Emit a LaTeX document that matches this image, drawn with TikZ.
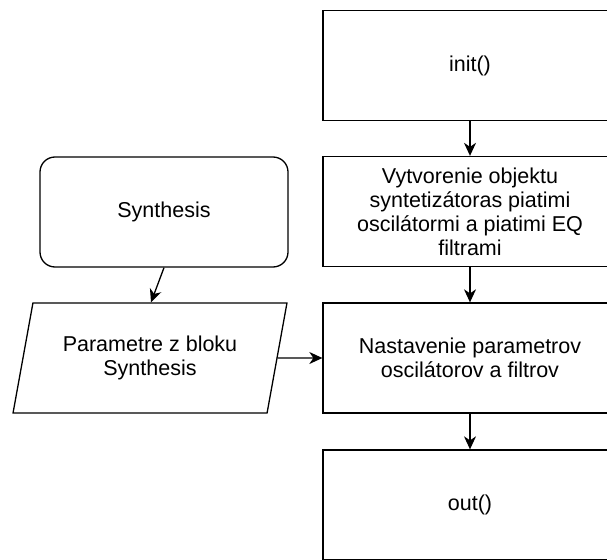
\documentclass[tikz,border=0pt]{standalone}
\usepackage{fontspec}
\setmainfont{Liberation Sans}
\usetikzlibrary{arrows.meta,shapes.geometric}

\tikzset{
  box/.style={draw, line width=1.3pt, minimum width=294pt, minimum height=110pt,
    align=center, inner sep=0pt,
    font=\fontsize{21.5pt}{24pt}\selectfont},
  roundbox/.style={box, rounded corners=15pt, minimum width=248pt},
  iobox/.style={draw, line width=1.3pt, trapezium, trapezium left angle=71.4,
    trapezium right angle=108.6, trapezium stretches=true,
    minimum width=274pt, minimum height=110pt, align=center, inner sep=0pt,
    font=\fontsize{21.5pt}{24pt}\selectfont},
  arr/.style={line width=1.3pt, -{Stealth[length=13pt,width=12pt,inset=4pt]}}
}

\begin{document}
\begin{tikzpicture}[x=1pt, y=-1pt]
  \useasboundingbox (0,0) rectangle (607,559);
  \clip (0,0) rectangle (607,559);

  % main sequence
  \node[box] (init)   at (470,65.5) {init()};
  \node[box] (create) at (470,211.5) {Vytvorenie objektu\\syntetizátoras piatimi\\oscilátormi a piatimi EQ\\filtrami};
  \node[box] (setup)  at (470,358) {Nastavenie parametrov\\oscilátorov a filtrov};
  \node[box] (out)    at (470,505) {out()};

  % input side
  \node[roundbox] (synth)  at (164,212) {Synthesis};
  \node[iobox]    (params) at (150,358) {Parametre z bloku\\Synthesis};

  % connectors
  \draw[arr] (init.south) -- (create.north);
  \draw[arr] (create.south) -- (setup.north);
  \draw[arr] (setup.south) -- (out.north);
  \draw[arr] (synth.south) -- ([xshift=1pt]params.north);
  \draw[arr] (params.east) -- (setup.west);
\end{tikzpicture}
\end{document}
